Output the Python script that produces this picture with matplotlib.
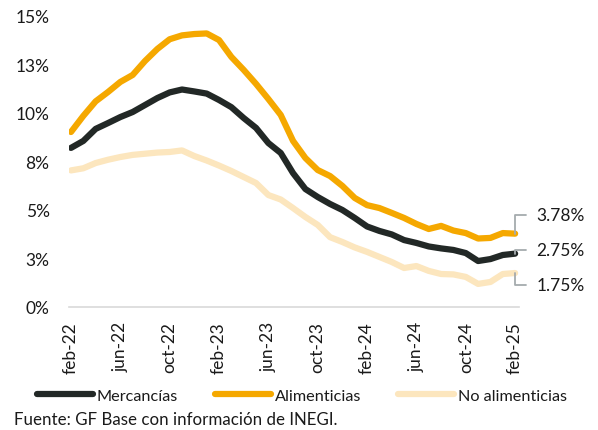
import math
import matplotlib
matplotlib.use("Agg")
import matplotlib.pyplot as plt
from matplotlib.ticker import FuncFormatter, MultipleLocator

plt.rcParams['font.family'] = ['Lato', 'DejaVu Sans']

# meses feb-22 .. feb-25
meses = ["feb-22", "mar-22", "abr-22", "may-22", "jun-22", "jul-22", "ago-22", "sep-22",
         "oct-22", "nov-22", "dic-22", "ene-23", "feb-23", "mar-23", "abr-23", "may-23",
         "jun-23", "jul-23", "ago-23", "sep-23", "oct-23", "nov-23", "dic-23", "ene-24",
         "feb-24", "mar-24", "abr-24", "may-24", "jun-24", "jul-24", "ago-24", "sep-24",
         "oct-24", "nov-24", "dic-24", "ene-25", "feb-25"]

mercancias = [8.20, 8.56, 9.18, 9.48, 9.79, 10.05, 10.41, 10.77, 11.06, 11.21, 11.11, 11.00,
              10.67, 10.30, 9.74, 9.23, 8.45, 7.94, 6.90, 6.08, 5.67, 5.31, 5.00, 4.59,
              4.15, 3.92, 3.74, 3.45, 3.30, 3.12, 3.02, 2.94, 2.78, 2.37, 2.47, 2.68, 2.75]

alimenticias = [9.02, 9.85, 10.60, 11.08, 11.60, 11.96, 12.68, 13.30, 13.80, 14.00, 14.07, 14.10,
                13.76, 12.89, 12.22, 11.50, 10.72, 9.90, 8.56, 7.68, 7.06, 6.75, 6.24, 5.62,
                5.25, 5.10, 4.85, 4.59, 4.28, 4.02, 4.18, 3.94, 3.81, 3.53, 3.56, 3.81, 3.78]

no_alimenticias = [7.04, 7.15, 7.42, 7.59, 7.73, 7.84, 7.90, 7.96, 7.99, 8.07, 7.78, 7.55,
                   7.29, 7.01, 6.70, 6.39, 5.77, 5.54, 5.10, 4.64, 4.23, 3.60, 3.35, 3.07,
                   2.84, 2.58, 2.32, 2.01, 2.11, 1.86, 1.70, 1.68, 1.55, 1.19, 1.29, 1.70, 1.75]

series = [("Mercancías", mercancias, "#222826"),
          ("Alimenticias", alimenticias, "#F5A800"),
          ("No alimenticias", no_alimenticias, "#FCE6BE")]

fig = plt.figure(figsize=(5.98, 4.31), dpi=100)
ax = fig.add_axes([0.1154, 0.2854, 0.868 - 0.1154, 0.9606 - 0.2854])

x = list(range(len(meses)))
# dibujo de atrás hacia adelante: claro, naranja, negro
for nombre, vals, col in series[::-1]:
    ax.plot(x, vals, color=col, lw=4.5, solid_joinstyle='round', solid_capstyle='round',
            label=nombre)

ax.set_xlim(-0.16, 36.32)
ax.set_ylim(0, 15)
ax.yaxis.set_major_locator(MultipleLocator(2.5))
# redondeo tipo Excel (2.5 -> 3)
ax.yaxis.set_major_formatter(FuncFormatter(lambda v, p: f"{int(math.floor(v + 0.5))}%"))
ax.set_xticks(x[::4])
ax.set_xticklabels(meses[::4], rotation=90)
ax.tick_params(axis='y', length=0, pad=14, labelsize=12.5, labelcolor='#1a1a1a')
ax.tick_params(axis='x', length=0, pad=10, labelsize=12.5, labelcolor='#1a1a1a')
for s in ['top', 'right', 'left']:
    ax.spines[s].set_visible(False)
ax.spines['bottom'].set_color('#d9d9d9')
ax.spines['bottom'].set_linewidth(1.2)

# etiquetas del último dato
offsets = {"Alimenticias": 13.5, "Mercancías": 2.5, "No alimenticias": -8.6}
for nombre, vals, col in series:
    ax.annotate(f"{vals[-1]:.2f}%", xy=(x[-1], vals[-1]), xytext=(15.5, offsets[nombre]),
                textcoords='offset points', va='center', ha='left', fontsize=12.5,
                color='#1a1a1a', annotation_clip=False,
                arrowprops=dict(arrowstyle='-', color='#a5abae', lw=1.3,
                                connectionstyle='angle,angleA=0,angleB=90,rad=0',
                                relpos=(0, 0.5), shrinkA=6, shrinkB=0))

handles, labels = ax.get_legend_handles_labels()
orden = [labels.index(n) for n, _, _ in series]
leg = fig.legend([handles[i] for i in orden], [labels[i] for i in orden],
                 loc='center', bbox_to_anchor=(0.505, 0.079), ncol=3, frameon=False,
                 fontsize=11.7, handlelength=3.4, handletextpad=0.25, columnspacing=2.3)
for t in leg.get_texts():
    t.set_color('#1a1a1a')

fig.text(14 / 598, 1 - 420 / 431, "Fuente: GF Base con información de INEGI.",
         fontsize=12.2, va='center', ha='left', color='#1a1a1a')

fig.savefig("out.png", dpi=100)
